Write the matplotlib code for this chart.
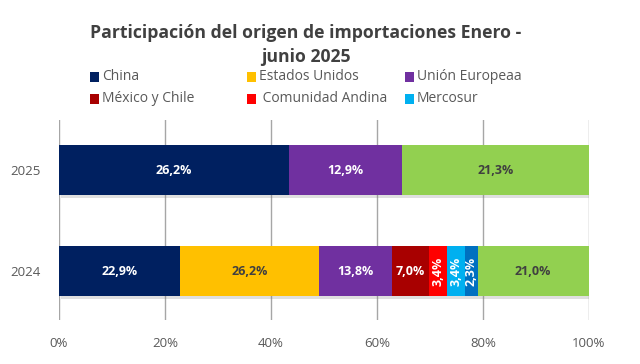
import numpy as np
import matplotlib.pyplot as plt
from matplotlib.patches import Rectangle
import matplotlib.patheffects as pe

plt.rcParams['font.family'] = ['Open Sans', 'DejaVu Sans']

years = ["2024", "2025"]
series = ["China", "Estados Unidos", "Unión Europeaa", "México y Chile",
          " Comunidad Andina", "Mercosur", "Otros socios", "Resto"]
colors = ["#002060", "#FFC000", "#7030A0", "#A80000",
          "#FF0000", "#00B0F0", "#0070C0", "#92D050"]
values_2024 = [22.9, 26.2, 13.8, 7.0, 3.4, 3.4, 2.3, 21.0]
values_2025 = [26.2, 0.0, 12.9, 0.0, 0.0, 0.0, 0.0, 21.3]
legend_items = [0, 1, 2, 3, 4, 5]
dark_text = {1, 7}
rotated = {4, 5, 6}

data = np.array([values_2024, values_2025])
shares = data / data.sum(axis=1, keepdims=True) * 100

W, H = 640, 364
fig = plt.figure(figsize=(6.4, 3.64), dpi=100)
ax = fig.add_axes([0.092, 0.121, 0.828, 0.549])

y = np.arange(len(years))
left = np.zeros(len(years))
shadow = [pe.SimplePatchShadow(offset=(1.5, -2), alpha=0.25, shadow_rgbFace="#808080"), pe.Normal()]

# soft shadow behind whole bars
for j in range(len(years)):
    sh = ax.barh(y[j], 100, height=0.495, color="white", zorder=2)
    sh[0].set_path_effects(shadow)

for i, name in enumerate(series):
    bars = ax.barh(y, shares[:, i], left=left, height=0.495, color=colors[i],
                   zorder=3, linewidth=0)
    for j, b in enumerate(bars):
        if data[j, i] <= 0:
            continue
        txt = f"{data[j, i]:.1f}%".replace(".", ",")
        ax.text(left[j] + shares[j, i] / 2, y[j], txt,
                ha="center", va="center", fontsize=9, fontweight="bold",
                color="#404040" if i in dark_text else "white",
                rotation=90 if i in rotated else 0, zorder=4)
    left += shares[:, i]

ax.set_xlim(0, 100)
ax.set_ylim(-0.485, 1.495)
ax.set_xticks(np.arange(0, 101, 20))
ax.set_xticklabels([f"{v}%" for v in range(0, 101, 20)])
ax.set_yticks(y)
ax.set_yticklabels(years)
ax.grid(axis="x", color="#A6A6A6", linewidth=1, zorder=0)
for s in ax.spines.values():
    s.set_visible(False)
ax.tick_params(axis="both", length=0, labelsize=9.5, colors="#595959")
ax.tick_params(axis="x", pad=12)
ax.tick_params(axis="y", pad=13)

fig.text(0.478, 1 - 45 / H, "Participación del origen de importaciones Enero -\njunio 2025",
         ha="center", va="center", fontsize=12.7, fontweight="bold",
         color="#404040", linespacing=1.36)

# legend laid out on a fixed 3-column grid (pixel positions)
col_x = [90, 247, 405]
row_y = [77, 99]
for n, k in enumerate(legend_items):
    cx = col_x[n % 3]
    cy = row_y[n // 3]
    fig.patches.append(Rectangle((cx / W, (H - cy - 4.5) / H), 9 / W, 9 / H,
                                 facecolor=colors[k], transform=fig.transFigure))
    fig.text((cx + 12) / W, (H - cy) / H, series[k], ha="left", va="center",
             fontsize=10, color="#595959")

fig.savefig("out.png", dpi=100)
